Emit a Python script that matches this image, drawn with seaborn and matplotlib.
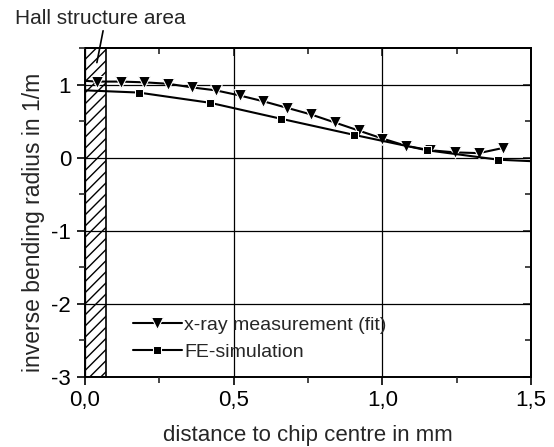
import matplotlib
matplotlib.use("Agg")
import matplotlib.pyplot as plt
import seaborn as sns
import pandas as pd
from matplotlib.ticker import MultipleLocator, FuncFormatter

# Data
xray_x = [0.0, 0.04, 0.12, 0.20, 0.28, 0.36, 0.44, 0.52, 0.60, 0.68, 0.76, 0.84,
          0.92, 1.00, 1.08, 1.16, 1.245, 1.325, 1.405]
xray_y = [1.05, 1.04, 1.04, 1.03, 1.01, 0.96, 0.92, 0.85, 0.77, 0.68, 0.59, 0.48,
          0.37, 0.26, 0.16, 0.10, 0.07, 0.06, 0.13]
fe_x = [0.0, 0.18, 0.42, 0.66, 0.905, 1.149, 1.39, 1.5]
fe_y = [0.92, 0.89, 0.75, 0.53, 0.31, 0.10, -0.03, -0.05]

label_xray = "x-ray measurement (fit)"
label_fe = "FE-simulation"
x_label = "distance to chip centre in mm"
y_label = "inverse bending radius in 1/m"
hall_label = "Hall structure area"
hall_width = 0.07

sns.set_style("ticks")
plt.rcParams["font.family"] = ["Liberation Sans", "DejaVu Sans"]

fig = plt.figure(figsize=(5.54, 4.47), dpi=100)
ax = fig.add_axes([0.1534, 0.1577, 0.8051, 0.7349])

df_x = pd.DataFrame({"x": xray_x, "y": xray_y})
df_f = pd.DataFrame({"x": fe_x, "y": fe_y})

ax.axvspan(0, hall_width, facecolor="white", edgecolor="black", hatch="///",
           linewidth=1.2, zorder=1)

sns.lineplot(data=df_x, x="x", y="y", ax=ax, color="black", lw=1.5, sort=False,
             marker="v", markersize=9, markevery=list(range(1, len(xray_x))),
             label=label_xray, zorder=3)
sns.lineplot(data=df_f, x="x", y="y", ax=ax, color="black", lw=1.5, sort=False,
             marker="s", markersize=6, markevery=list(range(1, len(fe_x) - 1)),
             label=label_fe, zorder=3)

ax.set_xlim(0, 1.5)
ax.set_ylim(-3, 1.5)
ax.xaxis.set_major_locator(MultipleLocator(0.5))
ax.xaxis.set_minor_locator(MultipleLocator(0.25))
ax.yaxis.set_major_locator(MultipleLocator(1))
ax.yaxis.set_minor_locator(MultipleLocator(0.5))
ax.xaxis.set_major_formatter(FuncFormatter(lambda v, p: f"{v:.1f}".replace(".", ",")))
ax.yaxis.set_major_formatter(FuncFormatter(lambda v, p: f"{v:.0f}"))
ax.grid(True, which="major", color="black", lw=0.9)
ax.set_axisbelow(False)

ax.tick_params(which="major", direction="out", length=6, width=1.2, labelsize=16,
               colors="black", pad=4)
ax.tick_params(which="minor", direction="out", length=4, width=1.2)
for s in ax.spines.values():
    s.set_visible(True)
    s.set_linewidth(1.4)
    s.set_color("black")

secx = ax.secondary_xaxis("top")
secx.xaxis.set_major_locator(MultipleLocator(0.5))
secx.xaxis.set_minor_locator(MultipleLocator(0.25))
secx.tick_params(which="both", direction="in", labeltop=False, width=1.2)
secx.tick_params(which="major", length=6)
secx.tick_params(which="minor", length=4)
secx.spines["top"].set_linewidth(1.4)
secy = ax.secondary_yaxis("right")
secy.yaxis.set_major_locator(MultipleLocator(1))
secy.yaxis.set_minor_locator(MultipleLocator(0.5))
secy.tick_params(which="both", direction="in", labelright=False, width=1.2)
secy.tick_params(which="major", length=6)
secy.tick_params(which="minor", length=4)
secy.spines["right"].set_linewidth(1.4)

ax.set_xlabel(x_label, fontsize=16, labelpad=10)
ax.set_ylabel(y_label, fontsize=16.5)
ax.yaxis.set_label_coords(-0.09, 0.47)

ann = ax.annotate(hall_label, xy=(0.04, 1.30), xycoords="data",
                  xytext=(15, 447 - 18), textcoords="figure pixels",
                  fontsize=15, ha="left", va="center",
                  arrowprops=dict(arrowstyle="-", color="black", lw=1.2,
                                  shrinkA=0, shrinkB=0, relpos=(0.52, 0.0)),
                  annotation_clip=False)

leg = ax.legend(loc="lower left", bbox_to_anchor=(0.09, 0.025), frameon=False,
                fontsize=14, handlelength=2.5, handletextpad=0.15, labelspacing=0.45,
                borderaxespad=0)

fig.savefig("out.png", dpi=100)
